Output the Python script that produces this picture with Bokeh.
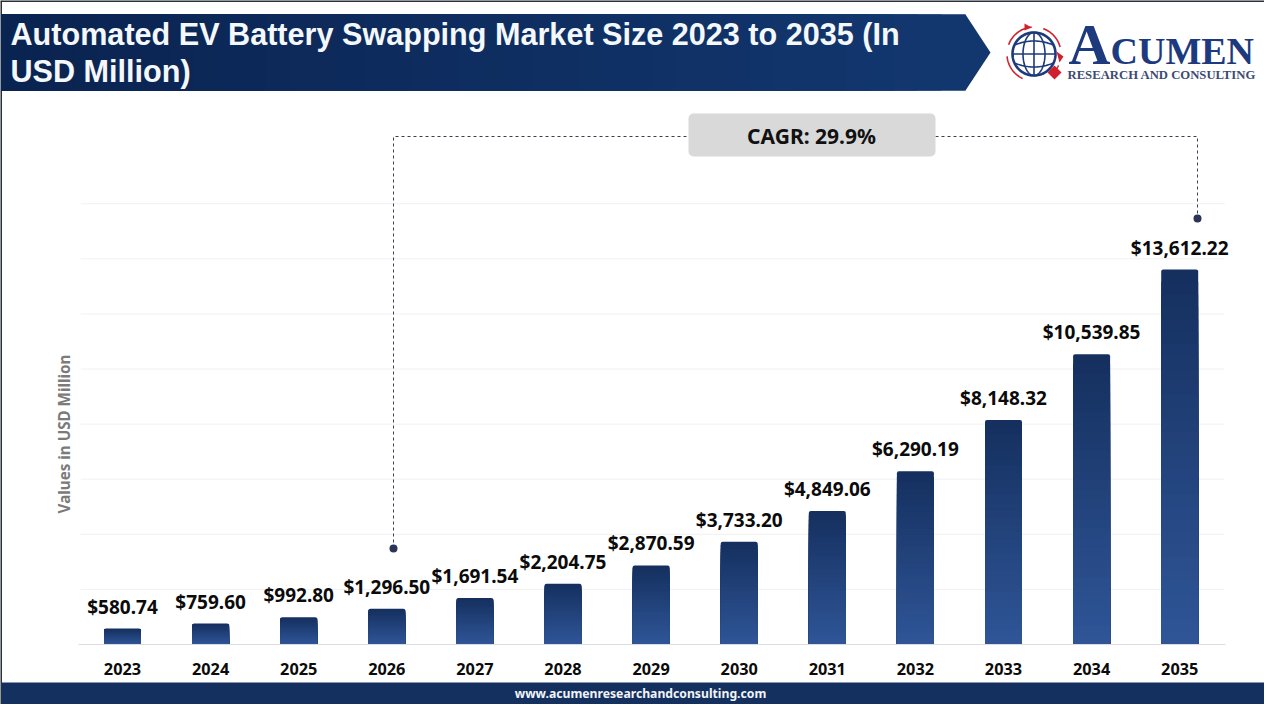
import numpy as np
from bokeh.core.properties import value
from bokeh.plotting import figure
from bokeh.models import Range1d, LinearAxis, FixedTicker
from bokeh.embed import file_html
from bokeh.resources import INLINE

years = [2023, 2024, 2025, 2026, 2027, 2028, 2029, 2030, 2031, 2032, 2033, 2034, 2035]
values = [580.74, 759.60, 992.80, 1296.50, 1691.54, 2204.75, 2870.59, 3733.20,
          4849.06, 6290.19, 8148.32, 10539.85, 13612.22]
grid_values = [2000, 4000, 6000, 8000, 10000, 12000, 14000, 16000]
title_lines = ["Automated EV Battery Swapping Market Size 2023 to 2035 (In", "USD Million)"]
y_title = "Values in USD Million"
cagr_text = "CAGR: 29.9%"
footer_text = "www.acumenresearchandconsulting.com"

W, H = 1264, 704
PX_PER_YEAR = 88.1
PX_PER_UNIT = 375 / 13612.22
X0, Y0 = 122.0, 644.0   # pixel of year 2023 and of value 0


def lerp(c0, c1, t):
    return "#%02x%02x%02x" % tuple(int(round(a + (b - a) * t)) for a, b in zip(c0, c1))


def font(name, size, color, style="bold", **kw):
    return dict(text_font=value(name), text_font_style=style, text_font_size=f"{size}px",
                text_color=color, text_baseline="middle", **kw)


p = figure(width=W, height=H, output_backend="svg", toolbar_location=None,
           x_axis_type=None, y_axis_type=None, min_border=0, outline_line_color=None,
           x_range=Range1d(years[0] - X0 / PX_PER_YEAR, years[0] + (W - X0) / PX_PER_YEAR),
           y_range=Range1d(-(H - Y0) / PX_PER_UNIT, Y0 / PX_PER_UNIT))
p.grid.visible = False
p.extra_x_ranges = {"px": Range1d(0, W)}
p.extra_y_ranges = {"px": Range1d(H, 0)}
PX = dict(x_range_name="px", y_range_name="px")

# page frame
p.line([0.5, 0.5], [0, H], line_color="#2b3038", line_width=2, **PX)
p.line([0, W], [0.5, 0.5], line_color="#2b3038", line_width=2, **PX)

# header chevron with a left-to-right gradient
p.patch([1, 965, 990, 965, 1], [14, 14, 52, 90, 90], fill_color="#12376f", line_color=None, **PX)
for k in range(40):
    t = 1 - k / 40
    p.quad(left=[1], right=[965 * t], top=[14], bottom=[90],
           fill_color=lerp((10, 35, 80), (18, 55, 111), t), line_color=None, **PX)
p.text(x=[10], y=[33.5], text=[title_lines[0]], **font("Liberation Sans", 30.6, "#f4f8fc"), **PX)
p.text(x=[10], y=[70.5], text=[title_lines[1]], **font("Liberation Sans", 30.6, "#f4f8fc"), **PX)

# logo
NAVY = "#1d3a7e"
RED = "#d0202e"
cx, cy, r = 1033.5, 53.5, 21.5
a = np.linspace(0, 2 * np.pi, 120)
p.line(cx + r * np.cos(a), cy + r * np.sin(a), line_color=NAVY, line_width=2.6, **PX)
p.line(cx + 11 * np.cos(a), cy + r * np.sin(a), line_color=NAVY, line_width=1.6, **PX)
p.line([cx, cx], [cy - r, cy + r], line_color=NAVY, line_width=1.6, **PX)
p.line([cx - r, cx + r], [cy, cy], line_color=NAVY, line_width=1.6, **PX)
for sgn in (-1, 1):
    xx = np.linspace(-r * 0.88, r * 0.88, 40)
    p.line(cx + xx, cy + sgn * (13 - 5 * (xx / r) ** 2), line_color=NAVY, line_width=1.6, **PX)
for a0, a1 in [(200, 265), (290, 345), (25, 50), (115, 175)]:
    t = np.radians(np.linspace(a0, a1, 30))
    p.line(cx + 27 * np.cos(t), cy + 27 * np.sin(t), line_color=RED, line_width=1.6, **PX)
p.patch([1054, 1061, 1054, 1047], [65, 72, 79, 72], fill_color=RED, line_color=None, **PX)
p.patch([1024, 1031, 1024], [23, 27, 30], fill_color=RED, line_color=None, **PX)
p.patch([1056, 1063, 1059], [51, 56, 62], fill_color=RED, line_color=None, **PX)
p.text(x=[1068], y=[44], text=["A"], **font("Liberation Serif", 58, NAVY), **PX)
p.text(x=[1110], y=[50.5], text=["CUMEN"], **font("Liberation Serif", 38, NAVY), **PX)
p.text(x=[1067], y=[74.5], text=["RESEARCH AND CONSULTING"], **font("Liberation Serif", 12.7, "#3c4b73"), **PX)

# gridlines
p.segment(x0=[years[0] - 0.475] * len(grid_values), x1=[years[-1] + 0.51] * len(grid_values),
          y0=grid_values, y1=grid_values, line_color="#f1f1f1", line_width=1)

# bars: painter's vertical gradient, dark top to lighter bottom
N = 30
for k in range(N):
    f = 1 - k / N
    p.vbar(x=years, top=[v * f for v in values], bottom=0, width=37 / PX_PER_YEAR,
           fill_color=lerp((21, 48, 95), (47, 85, 151), k / (N - 1)), line_color=None,
           border_radius=(2, 2, 0, 0) if k == 0 else 0)

# value labels
p.text(x=years, y=values, text=[f"${v:,.2f}" for v in values], y_offset=-22,
       text_align="center", **font("Noto Sans", 19, "#0b0b0b"))

# axes
xax = LinearAxis(fixed_location=0, ticker=FixedTicker(ticks=years), bounds=(years[0] - 0.5, years[-1] + 0.52),
                 major_label_overrides={y: str(y) for y in years}, major_tick_line_color=None,
                 minor_tick_line_color=None, axis_line_color="#d9dce0", axis_line_width=1,
                 major_label_standoff=12, major_label_text_font="Noto Sans",
                 major_label_text_font_style="bold", major_label_text_font_size="16.3px",
                 major_label_text_color="#0b0b0b")
p.add_layout(xax, "below")
yax = LinearAxis(fixed_location=years[0] - 0.475, ticker=FixedTicker(ticks=[]), bounds=(0, 15300),
                 axis_line_color=None, major_tick_line_color=None, minor_tick_line_color=None,
                 axis_label=y_title, axis_label_text_font="Noto Sans", axis_label_text_font_style="bold",
                 axis_label_text_font_size="15.2px", axis_label_text_color="#7b7b7b", axis_label_standoff=7)
p.add_layout(yax, "left")

# CAGR connector
dash = dict(line_color="#3a3f52", line_width=1, line_dash=[3, 3], **PX)
p.line([393, 393, 688], [548, 136, 136], **dash)
p.line([935, 1197, 1197], [136, 136, 218], **dash)
p.scatter([393, 1197], [548, 218], size=8, fill_color="#2a3558", line_color=None, **PX)
p.quad(left=[688], right=[935], top=[113], bottom=[156], fill_color="#d9d9d9", line_color=None,
       border_radius=5, **PX)
p.text(x=[811], y=[135], text=[cagr_text], text_align="center", **font("Noto Sans", 21, "#111111"), **PX)

# footer
p.quad(left=[1], right=[W], top=[682], bottom=[706], fill_color="#14305f", line_color=None, **PX)
p.text(x=[640], y=[693], text=[footer_text], text_align="center", **font("Noto Sans", 12.2, "#f2f4f8"), **PX)

open("out.html", "w").write(file_html(p, INLINE))
